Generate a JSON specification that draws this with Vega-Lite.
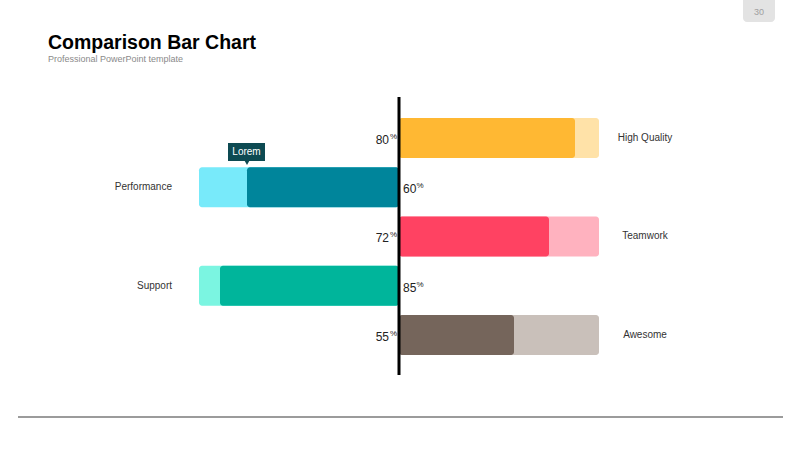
{
  "$schema": "https://vega.github.io/schema/vega-lite/v6.json",
  "width": 800,
  "height": 450,
  "autosize": {"type": "fit", "contains": "padding"},
  "padding": 0,
  "background": "#ffffff",
  "config": {"view": {"stroke": null}, "font": "Liberation Sans"},
  "data": {
    "values": [
      {"item": "High Quality", "row": 1, "side": "right", "value": 88, "label": "80"},
      {"item": "Performance", "row": 2, "side": "left", "value": -76, "label": "60"},
      {"item": "Teamwork", "row": 3, "side": "right", "value": 75, "label": "72"},
      {"item": "Support", "row": 4, "side": "left", "value": -89.5, "label": "85"},
      {"item": "Awesome", "row": 5, "side": "right", "value": 57.5, "label": "55"}
    ]
  },
  "resolve": {"scale": {"color": "independent"}},
  "layer": [
    {
      "transform": [{"filter": "datum.side == 'right'"}],
      "mark": {"type": "bar", "orient": "horizontal", "height": 40, "cornerRadius": 3},
      "encoding": {
        "y": {"field": "row", "type": "quantitative", "scale": {"domain": [-1.802, 7.335], "nice": false, "zero": false, "padding": 0, "reverse": true}, "axis": null},
        "x": {"datum": 0, "type": "quantitative", "scale": {"domain": [-199.5, 200.5], "nice": false, "zero": false, "padding": 0}, "axis": null},
        "x2": {"datum": 100},
        "color": {"field": "item", "type": "nominal", "legend": null, "scale": {"domain": ["High Quality", "Performance", "Teamwork", "Support", "Awesome"], "range": ["#FFE2A8", "#78EAFA", "#FFB2BF", "#7BF5E1", "#C9C0BA"]}}
      }
    },
    {
      "transform": [{"filter": "datum.side == 'left'"}],
      "mark": {"type": "bar", "orient": "horizontal", "height": 40, "cornerRadius": 3},
      "encoding": {
        "y": {"field": "row", "type": "quantitative", "scale": {"domain": [-1.802, 7.335], "nice": false, "zero": false, "padding": 0, "reverse": true}, "axis": null},
        "x": {"datum": -100, "type": "quantitative", "scale": {"domain": [-199.5, 200.5], "nice": false, "zero": false, "padding": 0}, "axis": null},
        "x2": {"datum": 0},
        "color": {"field": "item", "type": "nominal", "legend": null, "scale": {"domain": ["High Quality", "Performance", "Teamwork", "Support", "Awesome"], "range": ["#FFE2A8", "#78EAFA", "#FFB2BF", "#7BF5E1", "#C9C0BA"]}}
      }
    },
    {
      "mark": {"type": "bar", "orient": "horizontal", "height": 40, "cornerRadius": 3},
      "encoding": {
        "y": {"field": "row", "type": "quantitative", "scale": {"domain": [-1.802, 7.335], "nice": false, "zero": false, "padding": 0, "reverse": true}, "axis": null},
        "x": {"field": "value", "type": "quantitative", "scale": {"domain": [-199.5, 200.5], "nice": false, "zero": false, "padding": 0}, "axis": null},
        "x2": {"datum": 0},
        "color": {"field": "item", "type": "nominal", "legend": null, "scale": {"domain": ["High Quality", "Performance", "Teamwork", "Support", "Awesome"], "range": ["#FFB833", "#00859B", "#FF4262", "#00B59B", "#75655B"]}}
      }
    },
    {
      "transform": [{"filter": "datum.side == 'right'"}],
      "mark": {"type": "text", "align": "right", "baseline": "alphabetic", "dy": 6, "fontSize": 12, "color": "#222222"},
      "encoding": {
        "y": {"field": "row", "type": "quantitative", "scale": {"domain": [-1.802, 7.335], "nice": false, "zero": false, "padding": 0, "reverse": true}, "axis": null},
        "x": {"datum": -5, "type": "quantitative", "scale": {"domain": [-199.5, 200.5], "nice": false, "zero": false, "padding": 0}, "axis": null},
        "text": {"field": "label"}
      }
    },
    {
      "transform": [{"filter": "datum.side == 'right'"}],
      "mark": {"type": "text", "align": "right", "baseline": "alphabetic", "dy": 1, "fontSize": 8, "color": "#222222"},
      "encoding": {
        "y": {"field": "row", "type": "quantitative", "scale": {"domain": [-1.802, 7.335], "nice": false, "zero": false, "padding": 0, "reverse": true}, "axis": null},
        "x": {"datum": -1, "type": "quantitative", "scale": {"domain": [-199.5, 200.5], "nice": false, "zero": false, "padding": 0}, "axis": null},
        "text": {"value": "%"}
      }
    },
    {
      "transform": [{"filter": "datum.side == 'left'"}],
      "mark": {"type": "text", "align": "left", "baseline": "alphabetic", "dy": 6, "fontSize": 12, "color": "#222222"},
      "encoding": {
        "y": {"field": "row", "type": "quantitative", "scale": {"domain": [-1.802, 7.335], "nice": false, "zero": false, "padding": 0, "reverse": true}, "axis": null},
        "x": {"datum": 2, "type": "quantitative", "scale": {"domain": [-199.5, 200.5], "nice": false, "zero": false, "padding": 0}, "axis": null},
        "text": {"field": "label"}
      }
    },
    {
      "transform": [{"filter": "datum.side == 'left'"}],
      "mark": {"type": "text", "align": "left", "baseline": "alphabetic", "dy": 1, "fontSize": 8, "color": "#222222"},
      "encoding": {
        "y": {"field": "row", "type": "quantitative", "scale": {"domain": [-1.802, 7.335], "nice": false, "zero": false, "padding": 0, "reverse": true}, "axis": null},
        "x": {"datum": 8.7, "type": "quantitative", "scale": {"domain": [-199.5, 200.5], "nice": false, "zero": false, "padding": 0}, "axis": null},
        "text": {"value": "%"}
      }
    },
    {
      "transform": [{"filter": "datum.side == 'right'"}],
      "mark": {"type": "text", "align": "center", "baseline": "middle", "fontSize": 10, "color": "#333333"},
      "encoding": {
        "y": {"field": "row", "type": "quantitative", "scale": {"domain": [-1.802, 7.335], "nice": false, "zero": false, "padding": 0, "reverse": true}, "axis": null},
        "x": {"datum": 123, "type": "quantitative", "scale": {"domain": [-199.5, 200.5], "nice": false, "zero": false, "padding": 0}, "axis": null},
        "text": {"field": "item"}
      }
    },
    {
      "transform": [{"filter": "datum.side == 'left'"}],
      "mark": {"type": "text", "align": "right", "baseline": "middle", "fontSize": 10, "color": "#333333"},
      "encoding": {
        "y": {"field": "row", "type": "quantitative", "scale": {"domain": [-1.802, 7.335], "nice": false, "zero": false, "padding": 0, "reverse": true}, "axis": null},
        "x": {"datum": -113.5, "type": "quantitative", "scale": {"domain": [-199.5, 200.5], "nice": false, "zero": false, "padding": 0}, "axis": null},
        "text": {"field": "item"}
      }
    },
    {
      "data": {"values": [{}]},
      "mark": {"type": "rule", "color": "#000000", "strokeWidth": 3},
      "encoding": {
        "x": {"datum": 0, "type": "quantitative", "scale": {"domain": [-199.5, 200.5], "nice": false, "zero": false, "padding": 0}, "axis": null},
        "y": {"datum": 0.1675, "type": "quantitative", "scale": {"domain": [-1.802, 7.335], "nice": false, "zero": false, "padding": 0, "reverse": true}, "axis": null},
        "y2": {"datum": 5.812}
      }
    },
    {
      "data": {"values": [{}]},
      "mark": {"type": "rule", "color": "#7a7a7a", "strokeWidth": 1.5},
      "encoding": {
        "x": {"datum": -190.5, "type": "quantitative", "scale": {"domain": [-199.5, 200.5], "nice": false, "zero": false, "padding": 0}, "axis": null},
        "x2": {"datum": 192},
        "y": {"datum": 6.665, "type": "quantitative", "scale": {"domain": [-1.802, 7.335], "nice": false, "zero": false, "padding": 0, "reverse": true}, "axis": null}
      }
    },
    {
      "data": {"values": [{}]},
      "mark": {"type": "rect", "color": "#0D4A52"},
      "encoding": {
        "x": {"datum": -85.5, "type": "quantitative", "scale": {"domain": [-199.5, 200.5], "nice": false, "zero": false, "padding": 0}, "axis": null},
        "x2": {"datum": -67},
        "y": {"datum": 1.1016, "type": "quantitative", "scale": {"domain": [-1.802, 7.335], "nice": false, "zero": false, "padding": 0, "reverse": true}, "axis": null},
        "y2": {"datum": 1.467}
      }
    },
    {
      "data": {"values": [{}]},
      "mark": {"type": "point", "shape": "triangle-down", "filled": true, "size": 28, "color": "#0D4A52", "opacity": 1},
      "encoding": {
        "x": {"datum": -76, "type": "quantitative", "scale": {"domain": [-199.5, 200.5], "nice": false, "zero": false, "padding": 0}, "axis": null},
        "y": {"datum": 1.5, "type": "quantitative", "scale": {"domain": [-1.802, 7.335], "nice": false, "zero": false, "padding": 0, "reverse": true}, "axis": null}
      }
    },
    {
      "data": {"values": [{}]},
      "mark": {"type": "text", "align": "center", "baseline": "middle", "fontSize": 10, "color": "#ffffff"},
      "encoding": {
        "x": {"datum": -76.25, "type": "quantitative", "scale": {"domain": [-199.5, 200.5], "nice": false, "zero": false, "padding": 0}, "axis": null},
        "y": {"datum": 1.284, "type": "quantitative", "scale": {"domain": [-1.802, 7.335], "nice": false, "zero": false, "padding": 0, "reverse": true}, "axis": null},
        "text": {"value": "Lorem"}
      }
    },
    {
      "data": {"values": [{}]},
      "mark": {"type": "text", "align": "left", "baseline": "alphabetic", "fontSize": 19.5, "fontWeight": "bold", "color": "#000000"},
      "encoding": {
        "x": {"datum": -175.5, "type": "quantitative", "scale": {"domain": [-199.5, 200.5], "nice": false, "zero": false, "padding": 0}, "axis": null},
        "y": {"datum": -0.815, "type": "quantitative", "scale": {"domain": [-1.802, 7.335], "nice": false, "zero": false, "padding": 0, "reverse": true}, "axis": null},
        "text": {"value": "Comparison Bar Chart"}
      }
    },
    {
      "data": {"values": [{}]},
      "mark": {"type": "text", "align": "left", "baseline": "alphabetic", "fontSize": 9, "color": "#8a8a8a"},
      "encoding": {
        "x": {"datum": -175.5, "type": "quantitative", "scale": {"domain": [-199.5, 200.5], "nice": false, "zero": false, "padding": 0}, "axis": null},
        "y": {"datum": -0.55, "type": "quantitative", "scale": {"domain": [-1.802, 7.335], "nice": false, "zero": false, "padding": 0, "reverse": true}, "axis": null},
        "text": {"value": "Professional PowerPoint template"}
      }
    },
    {
      "data": {"values": [{}]},
      "mark": {"type": "rect", "color": "#E3E3E3", "cornerRadiusBottomLeft": 4, "cornerRadiusBottomRight": 4},
      "encoding": {
        "x": {"datum": 172, "type": "quantitative", "scale": {"domain": [-199.5, 200.5], "nice": false, "zero": false, "padding": 0}, "axis": null},
        "x2": {"datum": 188},
        "y": {"datum": -1.802, "type": "quantitative", "scale": {"domain": [-1.802, 7.335], "nice": false, "zero": false, "padding": 0, "reverse": true}, "axis": null},
        "y2": {"datum": -1.355}
      }
    },
    {
      "data": {"values": [{}]},
      "mark": {"type": "text", "align": "center", "baseline": "alphabetic", "fontSize": 9, "color": "#A0A0A0"},
      "encoding": {
        "x": {"datum": 180, "type": "quantitative", "scale": {"domain": [-199.5, 200.5], "nice": false, "zero": false, "padding": 0}, "axis": null},
        "y": {"datum": -1.497, "type": "quantitative", "scale": {"domain": [-1.802, 7.335], "nice": false, "zero": false, "padding": 0, "reverse": true}, "axis": null},
        "text": {"value": "30"}
      }
    }
  ]
}
